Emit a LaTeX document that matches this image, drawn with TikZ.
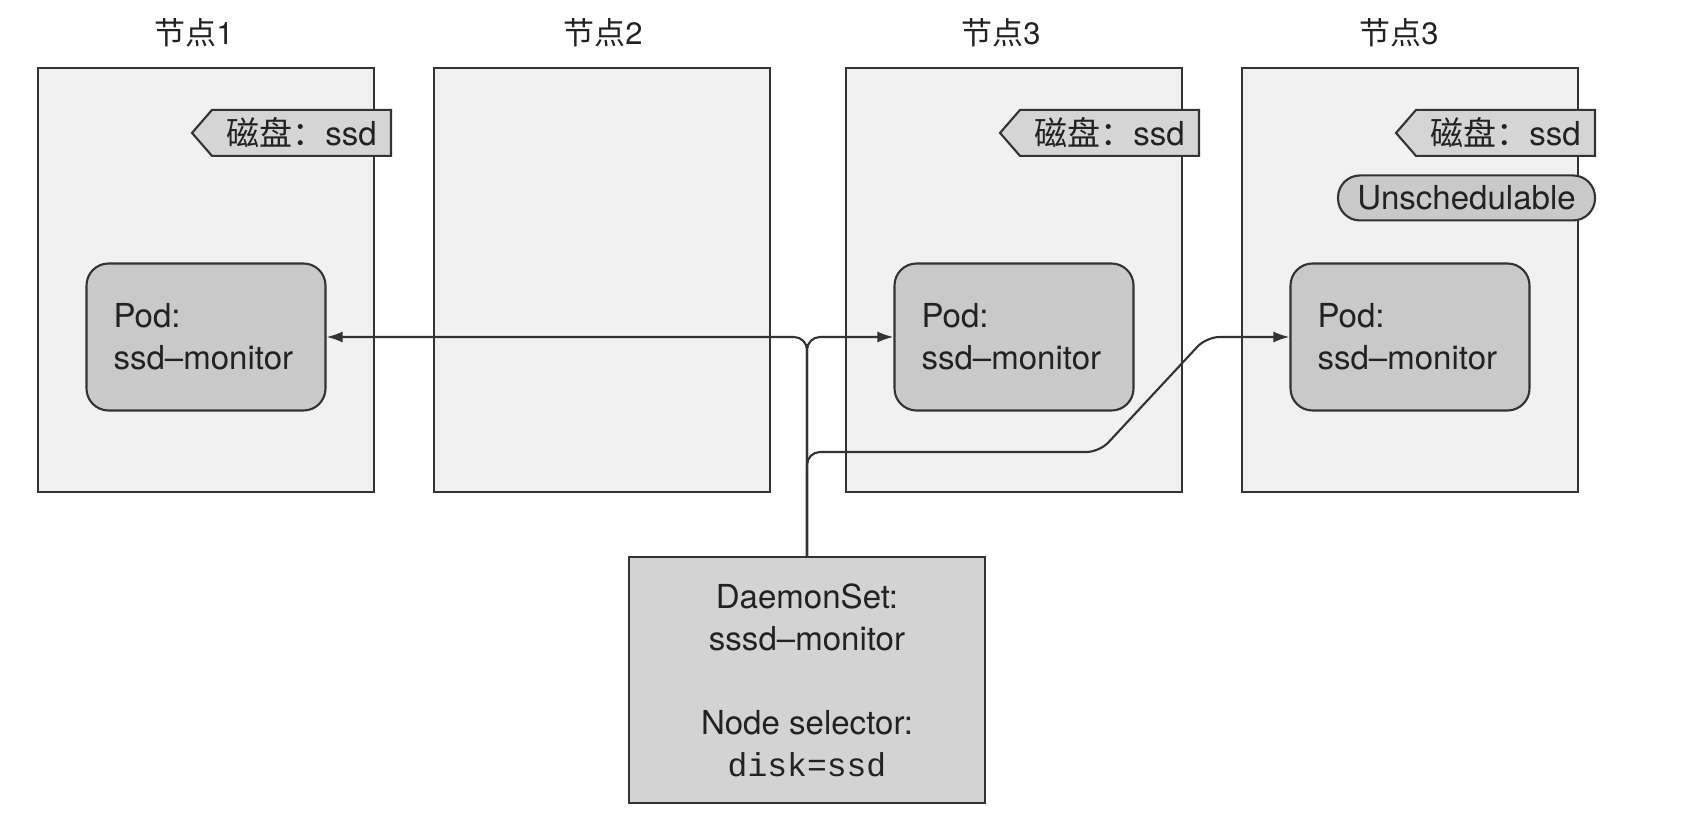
\documentclass[tikz,border=0pt]{standalone}
\usepackage{fontspec}
\setmainfont{TeX Gyre Heros}
\setmonofont{Liberation Mono}
\newfontfamily\cjk{Noto Sans CJK SC}
\usepackage{xcolor}
\usepackage{tikz}
\usetikzlibrary{shapes.symbols}
\usetikzlibrary{arrows.meta}
\usetikzlibrary{calc}

\definecolor{linegray}{HTML}{333333}
\definecolor{hostfill}{HTML}{F1F1F1}
\definecolor{podfill}{HTML}{C9C9C9}
\definecolor{tagfill}{HTML}{D5D5D5}
\definecolor{dsfill}{HTML}{D3D3D3}
\definecolor{inkgray}{HTML}{222222}

\begin{document}
\begin{tikzpicture}[x=0.1mm,y=-0.1mm, font=\fontsize{9.4}{11.95}\selectfont, text=inkgray]%%daemonset
                \tikzstyle{host}    = [draw=linegray, fill=hostfill, line width=0.6pt, minimum width=33.6mm, minimum height=42.4mm, inner sep=0pt]
                \tikzstyle{title}   = [font=\fontsize{8.8}{10}\selectfont]
                \tikzstyle{pod}     = [draw=linegray, fill=podfill, line width=0.6pt, rounded corners=2.2mm, minimum width=23.9mm, minimum height=14.7mm, text width=18.5mm, inner xsep=2.7mm, align=left]
                \tikzstyle{disktag} = [signal, signal to=west, signal pointer angle=98, draw=linegray, fill=tagfill, line width=0.6pt, minimum width=19.9mm, minimum height=4.6mm, inner sep=0pt, anchor=east]
                \tikzstyle{unsched} = [draw=linegray, fill=podfill, line width=0.6pt, rounded corners=2.2mm, minimum width=25.7mm, minimum height=4.5mm, inner sep=0pt, anchor=east]
                \tikzstyle{dset}    = [draw=linegray, fill=dsfill, line width=0.6pt, minimum width=35.6mm, minimum height=24.6mm, align=center]
                \tikzstyle{link}    = [draw=linegray, line width=0.6pt, rounded corners=1.3mm, -{Latex[length=1.6mm,width=1.1mm]}]

                \path [fill=white] (0,0) rectangle (1688,820);
                \useasboundingbox (0,0) rectangle (1688,820);

                \foreach \i/\x/\t/\d in {1/206/1/-12,2/602/2/1,3/1014/3/-13,4/1410/3/-11}{
                        \node [host](n\i) at (\x,280) {};
                        \node [title](t\i) at ($(n\i.north)+(\d,-34)$) {{\cjk 节点}\t};
                }

                \foreach \i in {1,3,4}{
                        \node [disktag](d\i) at ($(n\i.north east)+(17,66)$) {{\cjk 磁盘：}ssd\hspace{1.2mm}};
                        \node [pod](p\i) at ($(n\i)+(0,57)$) {Pod:\\ssd--monitor};
                }
                \node [unsched](u4) at ($(n4.north east)+(17,131)$) {Unschedulable};

                \node [dset](ds) at (807,680) {DaemonSet:\\sssd--monitor\\[4.2mm]Node selector:\\\texttt{disk=ssd}};

                \coordinate (b2) at ($(p4.west)+(-83,0)$);
                \coordinate (b1) at ($(b2)+(-107,115)$);
                \draw [link] (ds.north) |- (p1.east);
                \draw [link] (ds.north) |- (p3.west);
                \draw [link] (ds.north) |- (b1) -- (b2) -- (p4.west);
\end{tikzpicture}
\end{document}
